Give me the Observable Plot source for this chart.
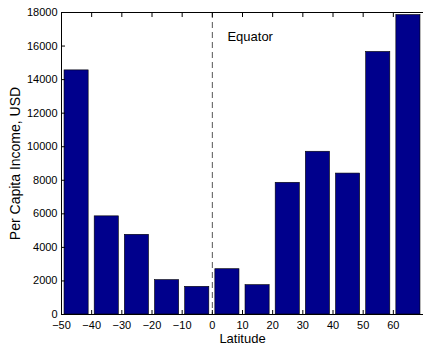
<!DOCTYPE html>
<html><head><meta charset="utf-8">
<script src="https://cdn.jsdelivr.net/npm/d3@7"></script>
<script src="https://cdn.jsdelivr.net/npm/@observablehq/plot@0.6"></script>
<style>body{margin:0;background:#fff}</style>
</head><body><div id="chart"></div>
<script>
const latitudes = [-45, -35, -25, -15, -5, 5, 15, 25, 35, 45, 55, 65];
const incomes = [14550, 5850, 4750, 2050, 1650, 2700, 1750, 7850, 9700, 8400, 15650, 17850];
const xTicks = [-50, -40, -30, -20, -10, 0, 10, 20, 30, 40, 50, 60];
const yTicks = [0, 2000, 4000, 6000, 8000, 10000, 12000, 14000, 16000, 18000];
const annotation = [{x: 5, y: 16550, text: "Equator"}];
const xTitle = "Latitude";
const yTitle = "Per Capita Income, USD";
const barWidth = 8;

const data = latitudes.map((lat, i) => ({lat, x1: lat - barWidth / 2, x2: lat + barWidth / 2, income: incomes[i]}));

const chart = Plot.plot({
  width: 423, height: 346,
  marginLeft: 61, marginTop: 12, marginBottom: 32, marginRight: 0,
  style: {fontFamily: "'Liberation Sans', Arial, sans-serif", fontSize: "11px", color: "#000", background: "#fff", overflow: "visible"},
  x: {domain: [-50, 70]},
  y: {domain: [0, 18000]},
  marks: [
    Plot.rectY(data, {x1: "x1", x2: "x2", y: "income", fill: "#00008c", stroke: "#000", strokeWidth: 0.6}),
    Plot.ruleX([0], {stroke: "#555", strokeDasharray: "6,4", strokeWidth: 1}),
    Plot.ruleY([0]),
    Plot.ruleY([18000]),
    Plot.ruleX([-50]),
    Plot.axisX({ticks: xTicks, tickSize: -4, tickPadding: 11, tickFormat: d => String(d).replace("-", "\u2212"), label: null, fontSize: 11}),
    Plot.axisX({anchor: "top", ticks: xTicks, tickSize: -4, tickFormat: () => "", label: null}),
    Plot.axisY({ticks: yTicks, tickSize: -4, tickPadding: 8, tickFormat: d => String(d), label: null}),
    Plot.text([xTitle], {frameAnchor: "bottom", text: d => d, textAnchor: "middle", lineAnchor: "middle", dy: 24, fontSize: 13}),
    Plot.text([yTitle], {frameAnchor: "left", text: d => d, textAnchor: "middle", lineAnchor: "middle", dx: -46, rotate: -90, fontSize: 14}),
    Plot.text(annotation, {x: "x", y: "y", text: "text", textAnchor: "start", fontSize: 13})
  ]
});
document.getElementById("chart").append(chart);
</script></body></html>
